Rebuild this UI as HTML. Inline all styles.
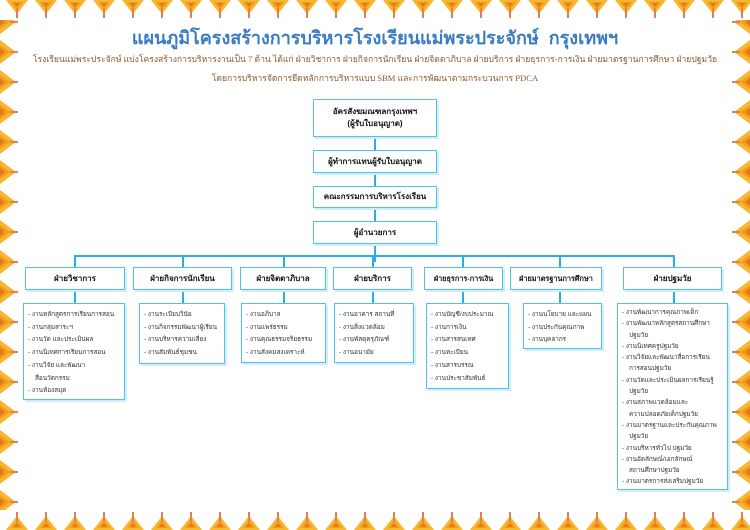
<!DOCTYPE html>
<html><head><meta charset="utf-8">
<style>
body{margin:0;width:750px;height:530px;position:relative;background:#fff;overflow:hidden;font-family:"Liberation Sans","DejaVu Sans",sans-serif;}
.a{position:absolute;}
.b{position:absolute;box-sizing:border-box;border:1px solid #4fc3ea;background:#fff;box-shadow:2px 2px 0 #cfeefa;display:flex;align-items:center;justify-content:center;text-align:center;font-weight:bold;font-size:8px;color:#111;line-height:12px;white-space:nowrap;}
.s{position:absolute;box-sizing:border-box;border:1px solid #4fc3ea;background:#fff;box-shadow:2px 2px 0 #cfeefa;font-size:6.4px;color:#333;padding:5px 2px 0 4px;line-height:12.7px;white-space:nowrap;overflow:hidden;}
.s div{padding-left:7px;text-indent:-7px;}
.l{position:absolute;background:#29aee6;}
</style></head><body>
<svg class="a" style="left:0;top:0" width="750" height="530">
<defs>
<g id="t"><polygon points="0,0 22,0 11,14" fill="#f7b731"/><polygon points="5,2 17,2 11,10" fill="#f39c1e"/><polygon points="8,3 14,3 11,7" fill="#e07b1a"/><rect x="10" y="8" width="2" height="10" fill="#e0804a"/></g>
<pattern id="pt" width="29" height="22" patternUnits="userSpaceOnUse" x="6"><use href="#t"/></pattern>
<g id="sd"><polygon points="0,0 0,24 16,12" fill="#f7b731"/><polygon points="0,5 0,19 10,12" fill="#f39c1e"/><polygon points="0,8 0,16 5,12" fill="#e07b1a"/><rect x="10" y="11" width="8" height="2" fill="#e0804a"/></g>
<pattern id="ps" width="20" height="30" patternUnits="userSpaceOnUse" y="10"><use href="#sd"/></pattern>
</defs>
<rect x="0" y="0" width="750" height="20" fill="url(#pt)"/>
<g transform="translate(0,530) scale(1,-1)"><rect x="0" y="0" width="750" height="20" fill="url(#pt)"/></g>
<rect x="0" y="20" width="20" height="490" fill="url(#ps)"/>
<g transform="translate(750,0) scale(-1,1)"><rect x="0" y="20" width="20" height="490" fill="url(#ps)"/></g>
</svg>
<div class="a" style="left:0;width:750px;top:23px;text-align:center;color:#3a7cc4;font-size:18px;font-weight:bold;white-space:nowrap;">แผนภูมิโครงสร้างการบริหารโรงเรียนแม่พระประจักษ์ &nbsp;กรุงเทพฯ</div>
<div class="a" style="left:0;width:750px;top:52px;text-align:center;color:#8a5a2e;font-size:8.6px;white-space:nowrap;font-family:'Liberation Serif',serif;">โรงเรียนแม่พระประจักษ์ แบ่งโครงสร้างการบริหารงานเป็น 7 ด้าน ได้แก่ ฝ่ายวิชาการ ฝ่ายกิจการนักเรียน ฝ่ายจิตตาภิบาล ฝ่ายบริการ ฝ่ายธุรการ-การเงิน ฝ่ายมาตรฐานการศึกษา ฝ่ายปฐมวัย</div>
<div class="a" style="left:0;width:750px;top:71px;text-align:center;color:#8a5a2e;font-size:8.6px;white-space:nowrap;font-family:'Liberation Serif',serif;">โดยการบริหารจัดการยึดหลักการบริหารแบบ SBM และการพัฒนาตามกระบวนการ PDCA</div>

<div class="l" style="left:374px;top:137px;width:2px;height:125px"></div>
<div class="l" style="left:74px;top:255px;width:600px;height:2px"></div>
<div class="l" style="left:74px;top:255px;width:2px;height:50px"></div>
<div class="l" style="left:182px;top:255px;width:2px;height:50px"></div>
<div class="l" style="left:283px;top:255px;width:2px;height:50px"></div>
<div class="l" style="left:372px;top:255px;width:2px;height:50px"></div>
<div class="l" style="left:462px;top:255px;width:2px;height:50px"></div>
<div class="l" style="left:559px;top:255px;width:2px;height:50px"></div>
<div class="l" style="left:673px;top:255px;width:2px;height:50px"></div>

<div class="b" style="left:313px;top:99px;width:124px;height:38px;">อัครสังฆมณฑลกรุงเทพฯ<br>(ผู้รับใบอนุญาต)</div>
<div class="b" style="left:313px;top:150px;width:124px;height:23px;">ผู้ทำการแทนผู้รับใบอนุญาต</div>
<div class="b" style="left:313px;top:186px;width:124px;height:22px;">คณะกรรมการบริหารโรงเรียน</div>
<div class="b" style="left:313px;top:221px;width:124px;height:23px;">ผู้อำนวยการ</div>

<div class="b" style="left:25px;top:267px;width:100px;height:23px;">ฝ่ายวิชาการ</div>
<div class="b" style="left:133px;top:267px;width:99px;height:23px;">ฝ่ายกิจการนักเรียน</div>
<div class="b" style="left:240px;top:267px;width:86px;height:23px;">ฝ่ายจิตตาภิบาล</div>
<div class="b" style="left:333px;top:267px;width:79px;height:23px;">ฝ่ายบริการ</div>
<div class="b" style="left:424px;top:267px;width:79px;height:23px;font-size:7.3px;">ฝ่ายธุรการ-การเงิน</div>
<div class="b" style="left:510px;top:267px;width:92px;height:23px;font-size:7.3px;">ฝ่ายมาตรฐานการศึกษา</div>
<div class="b" style="left:623px;top:267px;width:99px;height:23px;">ฝ่ายปฐมวัย</div>

<div class="s" style="left:23px;top:303px;width:102px;height:97px;"><div>- งานหลักสูตรการเรียนการสอน</div><div>- งานกลุ่มสาระฯ</div><div>- งานวัด และประเมินผล</div><div>- งานนิเทศการเรียนการสอน</div><div>- งานวิจัย และพัฒนา<br>สื่อนวัตกรรม</div><div>- งานห้องสมุด</div></div>
<div class="s" style="left:139px;top:303px;width:86px;height:61px;"><div>- งานระเบียบวินัย</div><div>- งานกิจกรรมพัฒนาผู้เรียน</div><div>- งานบริหารความเสี่ยง</div><div>- งานสัมพันธ์ชุมชน</div></div>
<div class="s" style="left:241px;top:303px;width:85px;height:60px;"><div>- งานอภิบาล</div><div>- งานแพร่ธรรม</div><div>- งานคุณธรรมจริยธรรม</div><div>- งานสังคมสงเคราะห์</div></div>
<div class="s" style="left:334px;top:303px;width:80px;height:60px;"><div>- งานอาคาร สถานที่</div><div>- งานสิ่งแวดล้อม</div><div>- งานพัสดุครุภัณฑ์</div><div>- งานอนามัย</div></div>
<div class="s" style="left:426px;top:303px;width:83px;height:86px;"><div>- งานบัญชี/งบประมาณ</div><div>- งานการเงิน</div><div>- งานสารสนเทศ</div><div>- งานทะเบียน</div><div>- งานสารบรรณ</div><div>- งานประชาสัมพันธ์</div></div>
<div class="s" style="left:523px;top:303px;width:79px;height:46px;"><div>- งานนโยบาย และแผน</div><div>- งานประกันคุณภาพ</div><div>- งานบุคลากร</div></div>
<div class="s" style="left:617px;top:303px;width:111px;height:187px;line-height:11.3px;padding-top:3px;"><div>- งานพัฒนาการคุณภาพเด็ก</div><div>- งานพัฒนาหลักสูตรสถานศึกษา<br>ปฐมวัย</div><div>- งานนิเทศครูปฐมวัย</div><div>- งานวิจัยและพัฒนาสื่อการเรียน<br>การสอนปฐมวัย</div><div>- งานวัดและประเมินผลการเรียนรู้<br>ปฐมวัย</div><div>- งานสภาพแวดล้อมและ<br>ความปลอดภัยเด็กปฐมวัย</div><div>- งานมาตรฐานและประกันคุณภาพ<br>ปฐมวัย</div><div>- งานบริหารทั่วไป ปฐมวัย</div><div>- งานอัตลักษณ์/เอกลักษณ์<br>สถานศึกษาปฐมวัย</div><div>- งานมาตรการส่งเสริมปฐมวัย</div></div>
</body></html>
